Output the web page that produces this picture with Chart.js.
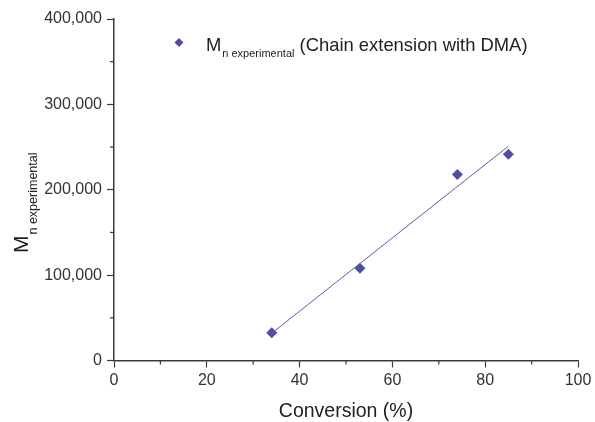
<!DOCTYPE html>
<html>
<head>
<meta charset="utf-8">
<script src="https://cdn.jsdelivr.net/npm/chart.js@4/dist/chart.umd.min.js"></script>
<style>
  html, body { margin: 0; padding: 0; background: #fff; }
  #wrap { width: 595px; height: 422px; }
</style>
</head>
<body>
<div id="wrap"><canvas id="mnChart" width="595" height="422"></canvas></div>
<script>
// Conversion (%) vs experimental Mn, chain extension with DMA
const conversion = [34, 53, 74, 85];
const mnExperimental = [32500, 108000, 218000, 241500];

// endpoints of the linear fit through the points
const fitX = [34, 85];
const fitY = [32000, 251000];

const xTicks = [0, 20, 40, 60, 80, 100];
const yTicks = [0, 100000, 200000, 300000, 400000];

const MARK = '#4f4f9f';
const FIT = '#5b5bb3';
const AXIS = '#3a3a3a';
const TEXT = '#222';
const FONT = '"Liberation Sans", Arial, sans-serif';

// minor ticks (unlabelled) are drawn shorter than the major ones
const minorTicks = {
  id: 'minorTicks',
  afterDraw(chart) {
    const ctx = chart.ctx;
    const xs = chart.scales.x, ys = chart.scales.y;
    ctx.save();
    ctx.strokeStyle = AXIS;
    ctx.lineWidth = 1.2;
    xs.ticks.forEach(t => {
      if (xTicks.includes(t.value)) return;
      const px = xs.getPixelForValue(t.value);
      ctx.beginPath();
      ctx.moveTo(px, xs.top);
      ctx.lineTo(px, xs.top + 4);
      ctx.stroke();
    });
    ys.ticks.forEach(t => {
      if (yTicks.includes(t.value)) return;
      const py = ys.getPixelForValue(t.value);
      ctx.beginPath();
      ctx.moveTo(ys.right, py);
      ctx.lineTo(ys.right - 4, py);
      ctx.stroke();
    });
    ctx.restore();
  }
};

// M with subscript, used in the legend and the y title
function drawSubLabel(ctx, x, y, big, small, dy) {
  ctx.font = big + 'px ' + FONT;
  ctx.fillText('M', x, y);
  const w = ctx.measureText('M').width;
  ctx.font = small + 'px ' + FONT;
  ctx.fillText('n experimental', x + w + 1, y + dy);
  return x + w + 1 + ctx.measureText('n experimental').width;
}

const annotations = {
  id: 'annotations',
  afterDraw(chart) {
    const ctx = chart.ctx;
    ctx.save();
    ctx.fillStyle = TEXT;
    ctx.textBaseline = 'alphabetic';
    ctx.textAlign = 'left';

    // legend
    ctx.fillStyle = MARK;
    Chart.helpers.drawPoint(ctx, { pointStyle: 'rectRot', radius: 4.5, borderWidth: 0 }, 179, 42.5);
    ctx.fillStyle = TEXT;
    const end = drawSubLabel(ctx, 206, 51, 18.4, 11, 6);
    ctx.font = '18.4px ' + FONT;
    ctx.fillText(' (Chain extension with DMA)', end, 51);

    // y axis title, rotated
    ctx.translate(28, 253);
    ctx.rotate(-Math.PI / 2);
    drawSubLabel(ctx, 0, 0, 21, 12.5, 9);
    ctx.restore();
  }
};

new Chart(document.getElementById('mnChart'), {
  type: 'scatter',
  data: {
    datasets: [
      {
        label: 'fit',
        type: 'line',
        data: fitX.map((x, i) => ({ x, y: fitY[i] })),
        borderColor: FIT,
        borderWidth: 1,
        pointRadius: 0,
        fill: false
      },
      {
        label: 'Mn experimental (Chain extension with DMA)',
        data: conversion.map((x, i) => ({ x, y: mnExperimental[i] })),
        pointStyle: 'rectRot',
        pointRadius: 5.5,
        backgroundColor: MARK,
        borderColor: MARK,
        borderWidth: 0
      }
    ]
  },
  options: {
    responsive: false,
    animation: false,
    layout: { padding: { top: 19, right: 17, left: 0, bottom: 0 } },
    plugins: {
      legend: { display: false },
      tooltip: { enabled: false }
    },
    scales: {
      x: {
        type: 'linear',
        min: 0,
        max: 100,
        ticks: {
          stepSize: 10,
          autoSkip: false,
          maxRotation: 0,
          padding: 3,
          color: '#333',
          font: { family: FONT, size: 16 },
          callback: v => xTicks.includes(v) ? String(v) : ''
        },
        grid: {
          drawOnChartArea: false,
          tickLength: 7,
          tickWidth: 1.2,
          tickColor: c => xTicks.includes(c.tick.value) ? AXIS : 'rgba(0,0,0,0)'
        },
        border: { color: AXIS, width: 1.5 },
        title: {
          display: true,
          text: 'Conversion (%)',
          color: TEXT,
          font: { family: FONT, size: 19.5 },
          padding: { top: 4, bottom: -1 }
        },
        afterFit(scale) { scale.height = 61.5; }
      },
      y: {
        type: 'linear',
        min: 0,
        max: 400000,
        ticks: {
          stepSize: 50000,
          autoSkip: false,
          padding: 5,
          color: '#333',
          font: { family: FONT, size: 16 },
          callback: v => yTicks.includes(v) ? v.toLocaleString('en-US') : ''
        },
        grid: {
          drawOnChartArea: false,
          tickLength: 7,
          tickWidth: 1.2,
          tickColor: c => yTicks.includes(c.tick.value) ? AXIS : 'rgba(0,0,0,0)'
        },
        border: { color: AXIS, width: 1.5 },
        afterFit(scale) { scale.width = 114; }
      }
    }
  },
  plugins: [minorTicks, annotations]
});
</script>
</body>
</html>
